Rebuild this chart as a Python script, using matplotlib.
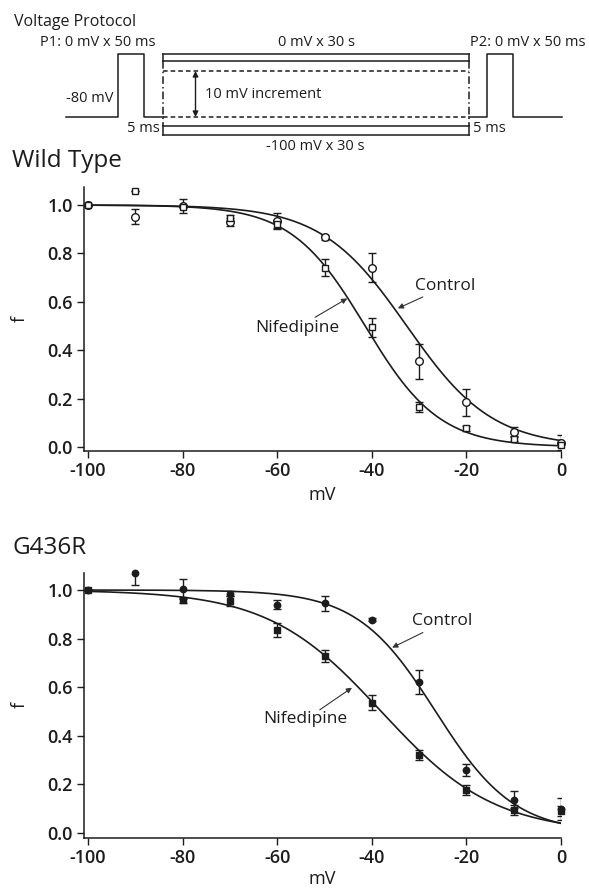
import matplotlib
matplotlib.use("Agg")  # headless
import matplotlib.pyplot as plt
import numpy as np

plt.rcParams["font.family"] = ["Open Sans", "DejaVu Sans"]
plt.rcParams["font.weight"] = 500

INK = "#1c1c1c"
W, H = 589, 888

# ---- data ----
voltages = [-100, -90, -80, -70, -60, -50, -40, -30, -20, -10, 0]

wt_control = [1.0, 0.952, 0.995, 0.93, 0.935, 0.866, 0.74, 0.355, 0.185, 0.063, 0.018]
wt_control_err = [0.0, 0.03, 0.03, 0.015, 0.03, 0.01, 0.06, 0.072, 0.055, 0.02, 0.03]
wt_nifedipine = [1.0, 1.057, 0.99, 0.945, 0.92, 0.74, 0.495, 0.165, 0.078, 0.035, 0.01]
wt_nifedipine_err = [0.0, 0.0, 0.0, 0.015, 0.02, 0.035, 0.04, 0.02, 0.01, 0.01, 0.01]

g436r_control = [1.0, 1.07, 1.005, 0.985, 0.94, 0.945, 0.878, 0.62, 0.26, 0.136, 0.10]
g436r_control_err = [0.0, 0.05, 0.04, 0.01, 0.02, 0.03, 0.005, 0.05, 0.025, 0.035, 0.045]
g436r_nifedipine = [1.0, np.nan, 0.958, 0.955, 0.835, 0.727, 0.536, 0.32, 0.177, 0.095, 0.09]
g436r_nifedipine_err = [0.0, np.nan, 0.01, 0.02, 0.03, 0.025, 0.03, 0.02, 0.02, 0.02, 0.02]

# Boltzmann fits: (V1/2 in mV, slope k in mV)
wt_control_fit = (-32.6, 9.06)
wt_nifedipine_fit = (-41.4, 7.84)
g436r_control_fit = (-26.5, 8.3)
g436r_nifedipine_fit = (-38.0, 12.0)

x_ticks = [-100, -80, -60, -40, -20, 0]
y_ticks = [0.0, 0.2, 0.4, 0.6, 0.8, 1.0]


def boltzmann(v, v_half, k):
    return 1.0 / (1.0 + np.exp((v - v_half) / k))


def px_axes(fig, left, top, right, bottom):
    return fig.add_axes([left / W, 1 - bottom / H, (right - left) / W, (bottom - top) / H])


def draw_panel(ax, ctrl, ctrl_err, nif, nif_err, ctrl_fit, nif_fit, filled, ylim):
    v_fine = np.linspace(-100, 0, 400)
    for fit in (ctrl_fit, nif_fit):
        ax.plot(v_fine, boltzmann(v_fine, *fit), color=INK, lw=1.2, zorder=2)

    face = INK if filled else "white"
    sizes = (4.6, 4.4) if filled else (5.5, 5.0)
    for vals, errs, marker, ms in ((ctrl, ctrl_err, "o", sizes[0]), (nif, nif_err, "s", sizes[1])):
        ax.errorbar(voltages, vals, yerr=errs, fmt="none", ecolor=INK,
                    elinewidth=1.0, capsize=2.6, capthick=1.0, zorder=3)
        ax.plot(voltages, vals, ls="none", marker=marker, ms=ms, mfc=face,
                mec=INK, mew=1.0, zorder=4, clip_on=False)

    ax.set_xlim(-100.85, 0)
    ax.set_ylim(*ylim)
    ax.set_xticks(x_ticks)
    ax.set_xticklabels([f"{t}" for t in x_ticks], fontweight=600)
    ax.set_yticks(y_ticks)
    ax.set_yticklabels([f"{t:.1f}" for t in y_ticks], fontweight=600)
    for s in ("top", "right"):
        ax.spines[s].set_visible(False)
    for s in ("left", "bottom"):
        ax.spines[s].set_linewidth(1.1)
        ax.spines[s].set_color(INK)
    ax.tick_params(direction="out", length=5, width=1.0, colors=INK,
                   labelsize=13, pad=3)
    ax.patch.set_alpha(0)


def label_arrow(ax, text, text_xy, tail, tip):
    ax.text(*text_xy, text, fontsize=12.5, color=INK, ha="center", va="center")
    ax.annotate("", xy=tip, xytext=tail,
                arrowprops=dict(arrowstyle="-|>", color="#333333", lw=0.8,
                                mutation_scale=8, shrinkA=0, shrinkB=0))


fig = plt.figure(figsize=(W / 100, H / 100), dpi=100)

# ---- voltage protocol schematic (pixel-like coordinates) ----
pax = fig.add_axes([0, 1 - 155 / H, 1, 155 / H])
pax.set_xlim(0, W)
pax.set_ylim(155, 0)
pax.axis("off")
lw = 1.1
pfs = 10.5
pax.plot([66, 118, 118, 144, 144, 163], [117, 117, 54, 54, 117, 117], color=INK, lw=lw)
pax.plot([469, 487, 487, 513, 513, 562], [117, 117, 54, 54, 117, 117], color=INK, lw=lw)
for y in (54, 61, 126, 135):
    pax.plot([163, 469], [y, y], color=INK, lw=lw)
for y in (71, 117):
    pax.plot([163, 469], [y, y], color=INK, lw=lw, ls=(0, (3, 2)))
for x in (163, 469):
    pax.plot([x, x], [54, 61], color=INK, lw=lw)
    pax.plot([x, x], [61, 126], color=INK, lw=lw, ls=(0, (5, 2, 1, 2)))
    pax.plot([x, x], [126, 135], color=INK, lw=lw)
pax.annotate("", xy=(195.5, 71), xytext=(195.5, 117),
             arrowprops=dict(arrowstyle="<|-|>", color=INK, lw=1.0,
                             mutation_scale=8, shrinkA=0, shrinkB=0))
pax.text(205, 94, "10 mV increment", fontsize=pfs, color=INK, va="center")
pax.text(98, 43, "P1: 0 mV x 50 ms", fontsize=pfs, color=INK, ha="center", va="center")
pax.text(316, 43, "0 mV x 30 s", fontsize=pfs, color=INK, ha="center", va="center")
pax.text(528, 43, "P2: 0 mV x 50 ms", fontsize=pfs, color=INK, ha="center", va="center")
pax.text(90, 99, "-80 mV", fontsize=pfs, color=INK, ha="center", va="center")
pax.text(160, 128, "5 ms", fontsize=pfs, color=INK, ha="right", va="center")
pax.text(473, 128, "5 ms", fontsize=pfs, color=INK, ha="left", va="center")
pax.text(315, 147, "-100 mV x 30 s", fontsize=pfs, color=INK, ha="center", va="center")
fig.text(14 / W, 1 - 22 / H, "Voltage Protocol", fontsize=11.5, color=INK, va="center")

# ---- Wild Type ----
ax1 = px_axes(fig, 84, 187, 561, 451)
draw_panel(ax1, wt_control, wt_control_err, wt_nifedipine, wt_nifedipine_err,
           wt_control_fit, wt_nifedipine_fit, filled=False, ylim=(-0.0165, 1.0744))
label_arrow(ax1, "Control", (-24.5, 0.664), (-29.2, 0.62), (-34.5, 0.573))
label_arrow(ax1, "Nifedipine", (-55.8, 0.49), (-52.0, 0.536), (-45.2, 0.614))

# ---- G436R ----
ax2 = px_axes(fig, 84, 573, 561, 838)
draw_panel(ax2, g436r_control, g436r_control_err, g436r_nifedipine, g436r_nifedipine_err,
           g436r_control_fit, g436r_nifedipine_fit, filled=True, ylim=(-0.0206, 1.07))
label_arrow(ax2, "Control", (-25.2, 0.874), (-29.2, 0.825), (-35.7, 0.763))
label_arrow(ax2, "Nifedipine", (-54.1, 0.47), (-51.0, 0.507), (-44.2, 0.598))

# panel titles and axis labels
fig.text(12 / W, 1 - 161 / H, "Wild Type", fontsize=17.5, color=INK, va="center")
fig.text(12 / W, 1 - 548 / H, "G436R", fontsize=17.5, color=INK, va="center")
for yc in (319, 705):
    fig.text(20 / W, 1 - yc / H, "f", fontsize=13, color=INK, rotation=90,
             ha="center", va="center")
for yc in (495, 879):
    fig.text(322 / W, 1 - yc / H, "mV", fontsize=13, color=INK, ha="center", va="center")

fig.savefig("out.png", dpi=100)
plt.close(fig)
